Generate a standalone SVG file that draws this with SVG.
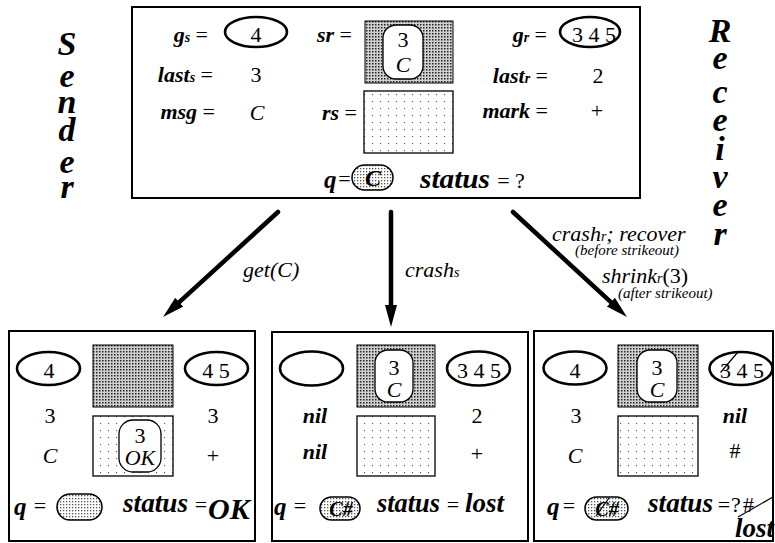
<svg xmlns="http://www.w3.org/2000/svg" width="775" height="543" viewBox="0 0 775 543" font-family="Liberation Serif, serif">
<style>
text{fill:#000}
.lb{font-size:22px;font-weight:bold;font-style:italic}
.sub{font-size:14px}
.eq{font-weight:normal;font-style:normal}
.v{font-size:22px;text-anchor:middle}
.vi{font-size:22px;font-style:italic;text-anchor:middle}
.bn{font-size:22px;font-weight:bold;font-style:italic;text-anchor:middle}
.st{font-size:27px;font-weight:bold;font-style:italic}
.q{font-size:25px;font-weight:bold;font-style:italic}
.big{font-size:34px;font-weight:bold;font-style:italic;text-anchor:middle}
.al{font-size:22px;font-style:italic}
.sm{font-size:15px;font-style:italic}
.box{fill:#fff;stroke:#000;stroke-width:2}
.ell{fill:none;stroke:#000;stroke-width:2.6}
.dk{fill:url(#pdk);stroke:#000;stroke-width:1}
.lt{fill:url(#plt);stroke:#000;stroke-width:1.3}
.rr{fill:#fff;stroke:#000;stroke-width:1.3}
.pill{fill:url(#ppl);stroke:#000;stroke-width:1.5}
.strike{stroke:#000;stroke-width:1.2}
.arr{stroke:#000;stroke-width:4.5;fill:none;stroke-linecap:round;marker-end:url(#ah)}
</style>
<defs>
<pattern id="pdk" width="3" height="3" patternUnits="userSpaceOnUse"><rect width="3" height="3" fill="#d0d0d0"/><rect width="1.5" height="1.5" fill="#222"/></pattern>
<pattern id="ppl" width="3" height="3" patternUnits="userSpaceOnUse"><rect width="3" height="3" fill="#fff"/><rect width="1.3" height="1.3" fill="#555"/></pattern>
<pattern id="plt" width="8" height="7" patternUnits="userSpaceOnUse"><rect width="8" height="7" fill="#fff"/><rect x="4" y="3" width="1.1" height="1.1" fill="#555"/></pattern>
<marker id="ah" markerUnits="userSpaceOnUse" markerWidth="24" markerHeight="14" viewBox="0 0 24 14" refX="10" refY="7" orient="auto"><path d="M0,1 L22,7 L0,13 Z" fill="#000"/></marker>
</defs>

<g id="sender-label">
<text class="big" x="67" y="55">S</text>
<text class="big" x="67" y="87">e</text>
<text class="big" x="67" y="113">n</text>
<text class="big" x="67" y="141">d</text>
<text class="big" x="67" y="173">e</text>
<text class="big" x="67" y="198">r</text>
</g>

<g id="receiver-label">
<text class="big" x="720" y="42">R</text>
<text class="big" x="720" y="69">e</text>
<text class="big" x="720" y="103">c</text>
<text class="big" x="720" y="131">e</text>
<text class="big" x="720" y="160">i</text>
<text class="big" x="720" y="188">v</text>
<text class="big" x="720" y="216">e</text>
<text class="big" x="720" y="245">r</text>
</g>

<g id="state-top">
<rect class="box" x="132" y="7" width="508" height="191"/>
<text class="lb" x="208" y="42" text-anchor="end">g<tspan class="sub">s</tspan> <tspan class="eq">=</tspan></text>
<ellipse class="ell" cx="256" cy="32" rx="31" ry="15"/>
<text class="v" x="256" y="42">4</text>
<text class="lb" x="352" y="42" text-anchor="end">sr <tspan class="eq">=</tspan></text>
<rect class="dk" x="365" y="21" width="88" height="62"/>
<rect class="rr" x="383" y="25" width="40" height="54" rx="13"/>
<text class="v" x="403" y="47">3</text>
<text class="vi" x="403" y="72">C</text>
<text class="lb" x="547" y="42" text-anchor="end">g<tspan class="sub">r</tspan> <tspan class="eq">=</tspan></text>
<ellipse class="ell" cx="590" cy="32" rx="30" ry="15"/>
<text class="v" x="594" y="42">3 4 5</text>
<text class="lb" x="213" y="82" text-anchor="end">last<tspan class="sub">s</tspan> <tspan class="eq">=</tspan></text>
<text class="v" x="256" y="82">3</text>
<text class="lb" x="548" y="83" text-anchor="end">last<tspan class="sub">r</tspan> <tspan class="eq">=</tspan></text>
<text class="v" x="598" y="83">2</text>
<text class="lb" x="215" y="119" text-anchor="end">msg <tspan class="eq">=</tspan></text>
<text class="vi" x="257" y="120">C</text>
<text class="lb" x="357" y="120" text-anchor="end">rs <tspan class="eq">=</tspan></text>
<rect class="lt" x="364" y="91" width="89" height="62"/>
<text class="lb" x="548" y="118" text-anchor="end">mark <tspan class="eq">=</tspan></text>
<text class="v" x="597" y="118">+</text>
<text class="q" x="324" y="188">q</text>
<text class="v" x="344.5" y="186">=</text>
<rect class="pill" x="352" y="165" width="41" height="25" rx="12.5"/>
<text class="bn" x="373" y="186" style="font-size:24px">C</text>
<text class="st" x="420" y="188" textLength="70" lengthAdjust="spacingAndGlyphs">status</text>
<text class="v" x="511" y="188">= ?</text>
</g>

<g id="state-get">
<rect class="box" x="9" y="331" width="246" height="210"/>
<ellipse class="ell" cx="48.5" cy="368.5" rx="31.5" ry="16.5"/>
<text class="v" x="49" y="378">4</text>
<rect class="dk" x="93" y="345" width="80" height="62"/>
<ellipse class="ell" cx="216.5" cy="368.5" rx="31.5" ry="16.5"/>
<text class="v" x="216" y="378">4 5</text>
<text class="v" x="50" y="423">3</text>
<text class="v" x="213" y="423">3</text>
<rect class="lt" x="93" y="416" width="80" height="60"/>
<rect class="rr" x="119" y="420" width="42" height="52" rx="14"/>
<text class="v" x="140" y="443">3</text>
<text class="vi" x="140" y="465">OK</text>
<text class="vi" x="50" y="463">C</text>
<text class="v" x="213" y="463">+</text>
<text class="q" x="14" y="515">q</text>
<text class="v" x="40" y="513">=</text>
<rect class="pill" x="57" y="494" width="45" height="26" rx="13"/>
<text class="st" x="123" y="512" textLength="65" lengthAdjust="spacingAndGlyphs">status</text>
<text class="v" x="201" y="512">=</text>
<text class="st" x="208" y="519" style="font-size:30px">OK</text>
</g>

<g id="state-crash-s">
<rect class="box" x="272" y="332" width="256" height="209"/>
<ellipse class="ell" cx="311.5" cy="368.5" rx="31.5" ry="17"/>
<rect class="dk" x="357" y="345" width="78" height="62"/>
<rect class="rr" x="375" y="350" width="38" height="52" rx="13"/>
<text class="v" x="394" y="375">3</text>
<text class="vi" x="394" y="397">C</text>
<ellipse class="ell" cx="478.5" cy="368.5" rx="31.5" ry="17"/>
<text class="v" x="479" y="378">3 4 5</text>
<text class="bn" x="315" y="423">nil</text>
<text class="v" x="477" y="423">2</text>
<rect class="lt" x="357" y="416" width="78" height="60"/>
<text class="bn" x="315" y="459">nil</text>
<text class="v" x="477" y="461">+</text>
<text class="q" x="274" y="515">q</text>
<text class="v" x="300" y="513">=</text>
<rect class="pill" x="320" y="497" width="40" height="23" rx="11.5"/>
<text class="bn" x="341" y="516" style="font-size:20px">C#</text>
<text class="st" x="377" y="512" textLength="63" lengthAdjust="spacingAndGlyphs">status</text>
<text class="v" x="453" y="512">=</text>
<text class="st" x="465" y="512">lost</text>
</g>

<g id="state-crash-r">
<rect class="box" x="534" y="331" width="239" height="210"/>
<ellipse class="ell" cx="575" cy="368" rx="31.5" ry="16.5"/>
<text class="v" x="575" y="378">4</text>
<rect class="dk" x="618" y="345" width="80" height="62"/>
<rect class="rr" x="637" y="350" width="40" height="52" rx="13"/>
<text class="v" x="657" y="375">3</text>
<text class="vi" x="657" y="397">C</text>
<ellipse class="ell" cx="741" cy="368.5" rx="31.5" ry="16.5"/>
<text class="v" x="742" y="378">3 4 5</text>
<line class="strike" x1="720.5" y1="372.5" x2="737.5" y2="352.5"/>
<text class="v" x="576" y="423">3</text>
<text class="bn" x="735" y="423">nil</text>
<rect class="lt" x="618" y="416" width="80" height="60"/>
<text class="vi" x="575" y="463">C</text>
<text class="v" x="735" y="458">#</text>
<text class="q" x="547" y="515">q</text>
<text class="v" x="569" y="513">=</text>
<rect class="pill" x="585" y="497" width="43" height="23" rx="11.5"/>
<text class="bn" x="607" y="516" style="font-size:20px">C#</text>
<line class="strike" x1="596" y1="516" x2="609" y2="498"/>
<text class="st" x="648" y="512" textLength="65" lengthAdjust="spacingAndGlyphs">status</text>
<text class="v" x="724" y="512">=</text>
<text class="v" x="736" y="512">?</text>
<text class="v" x="748.5" y="512">#</text>
<line class="strike" x1="738" y1="517" x2="773" y2="497"/>
<text class="st" x="774" y="537" text-anchor="end">lost</text>
</g>

<g id="connectors">
<line class="arr" x1="278" y1="212" x2="171.9" y2="308.9"/>
<line class="arr" x1="391" y1="212" x2="391" y2="315"/>
<line class="arr" x1="513" y1="212" x2="618.2" y2="308.9"/>
<text class="al" x="243" y="277">get(C)</text>
<text class="al" x="405" y="277">crash<tspan class="sub">s</tspan></text>
<text class="al" x="552" y="241">crash<tspan class="sub">r</tspan>; recover</text>
<text class="sm" x="575" y="255">(before strikeout)</text>
<text class="al" x="602" y="283">shrink<tspan class="sub">r</tspan><tspan font-style="normal">(3)</tspan></text>
<text class="sm" x="618" y="298">(after strikeout)</text>
</g>
</svg>
